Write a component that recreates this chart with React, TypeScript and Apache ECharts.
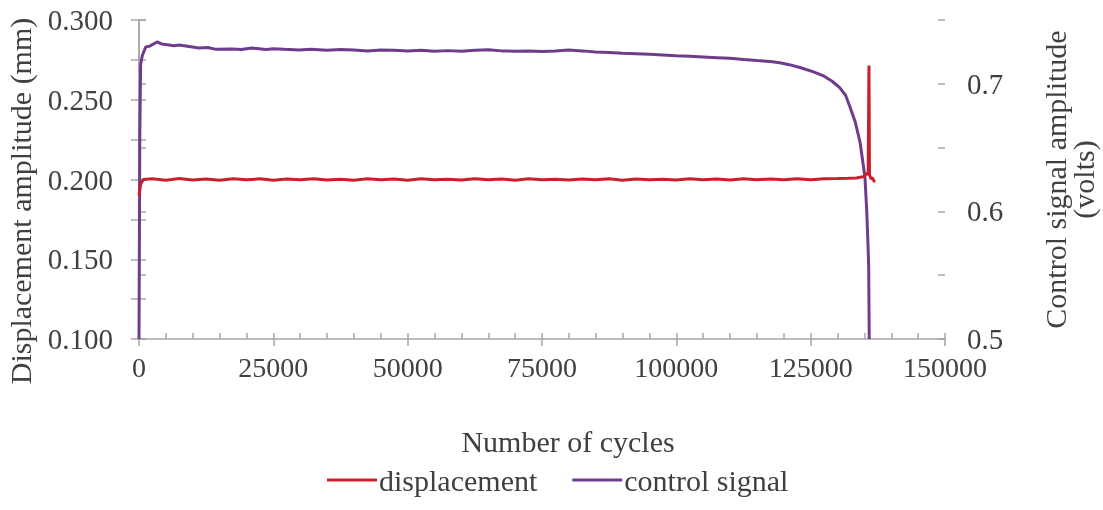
import React, { useEffect, useRef } from "react";
import * as echarts from "echarts";

const xTicks = [0, 25000, 50000, 75000, 100000, 125000, 150000];
const leftTickLabels = ["0.100", "0.150", "0.200", "0.250", "0.300"];
const rightTickLabels = ["0.5", "0.6", "0.7"];

const dispCycles = [
  0, 300, 800, 2500, 5000, 7500, 10000, 12500, 15000, 17500, 20000, 22500, 25000, 27500, 30000,
  32500, 35000, 37500, 40000, 42500, 45000, 47500, 50000, 52500, 55000, 57500, 60000, 62500,
  65000, 67500, 70000, 72500, 75000, 77500, 80000, 82500, 85000, 87500, 90000, 92500, 95000,
  97500, 100000, 102500, 105000, 107500, 110000, 112500, 115000, 117500, 120000, 122500, 125000,
  127500, 130000, 132000, 133500, 134500, 135000, 135400, 135700, 135850, 135950, 136200, 136500,
  136800, 137000,
];
const dispValues = [
  0.19, 0.197, 0.2, 0.2004, 0.1995, 0.2006, 0.1997, 0.2003, 0.1996, 0.2005, 0.1998, 0.2004, 0.1996,
  0.2003, 0.1998, 0.2005, 0.1997, 0.2002, 0.1996, 0.2004, 0.1998, 0.2003, 0.1996, 0.2005, 0.1999,
  0.2002, 0.1997, 0.2004, 0.1998, 0.2003, 0.1996, 0.2004, 0.1999, 0.2002, 0.1997, 0.2003, 0.1998,
  0.2004, 0.1996, 0.2003, 0.1999, 0.2002, 0.1997, 0.2004, 0.1998, 0.2003, 0.1997, 0.2004, 0.1999,
  0.2003, 0.1998, 0.2005, 0.1999, 0.2004, 0.2006, 0.2008, 0.201, 0.2015, 0.202, 0.204, 0.203, 0.2715,
  0.203, 0.2005, 0.201, 0.199, 0.1985,
];

const ctrlCycles = [
  0, 150, 300, 600, 1250, 2000, 3350, 4200, 5590, 6500, 7450, 9000, 11180, 12800, 14350, 17330,
  19000, 21050, 23660, 25000, 27000, 29800, 32000, 35000, 37500, 40000, 42500, 45000, 47500, 50000,
  52500, 55000, 57500, 60000, 62500, 65000, 67500, 70000, 72500, 75000, 77500, 80000, 82500, 85000,
  87500, 90000, 92500, 95000, 97500, 100000, 102500, 105000, 107500, 110000, 112500, 115000, 117500,
  119250, 121000, 123000, 125400, 127500, 129000, 130400, 131500, 132300, 133300, 134200, 135100,
  135450, 135700, 135800, 135900,
];
const ctrlValues = [
  0.5, 0.66, 0.715, 0.722, 0.7288, 0.7295, 0.7328, 0.7312, 0.7304, 0.7298, 0.7304, 0.7295, 0.728,
  0.7284, 0.727, 0.7272, 0.7268, 0.728, 0.7268, 0.7274, 0.727, 0.7265, 0.727, 0.7262, 0.7268, 0.7264,
  0.7258, 0.7265, 0.7262, 0.7258, 0.7262, 0.7256, 0.726, 0.7255, 0.7262, 0.7266, 0.7258, 0.7255,
  0.7258, 0.7254, 0.7258, 0.7265, 0.7258, 0.725, 0.7245, 0.724, 0.7236, 0.7232, 0.7226, 0.722,
  0.7215, 0.721, 0.7205, 0.72, 0.719, 0.7182, 0.7175, 0.7165, 0.715, 0.7128, 0.7095, 0.706, 0.702,
  0.697, 0.691, 0.682, 0.67, 0.654, 0.627, 0.599, 0.57, 0.556, 0.5,
];

const xTitle = "Number of cycles";
const leftTitle = "Displacement amplitude (mm)";
const rightTitle = "Control signal amplitude\n(volts)";

const RED = "#C8202C";
const PURPLE = "#6E3C8C";
const AXIS = "#A6A6A6";
const TEXT = "#404040";
const FONT = "'Liberation Serif', 'DejaVu Serif', 'Times New Roman', serif";

export default function App() {
  const ref = useRef<HTMLDivElement>(null);
  useEffect(() => {
    document.body.style.margin = "0";
    document.documentElement.style.overflow = "hidden";
    document.body.style.overflow = "hidden";
    const chart = echarts.init(ref.current!, null, { renderer: "svg" });
    const leftFmt = (v: number) => {
      const s = v.toFixed(3);
      return leftTickLabels.includes(s) ? s : "";
    };
    const rightFmt = (v: number) => {
      const s = v.toFixed(1);
      return Math.abs(parseFloat(s) - v) < 1e-6 && rightTickLabels.includes(s) ? s : "";
    };
    const tickStyle = { lineStyle: { color: AXIS, width: 1.5 } };
    chart.setOption({
      animation: false,
      grid: { left: 139, right: 158, top: 20, bottom: 171, outerBoundsMode: "none", containLabel: false },
      legend: {
        data: ["displacement", "control signal"],
        bottom: 10,
        left: 322,
        icon: "rect",
        itemWidth: 50,
        itemHeight: 3,
        itemGap: 35,
        textStyle: { color: TEXT, fontFamily: FONT, fontSize: 30, padding: [0, 0, 0, -3] },
      },
      graphic: [
        {
          type: "text",
          x: 568,
          y: 441,
          style: {
            text: xTitle,
            fill: TEXT,
            font: `30px ${FONT}`,
            textAlign: "center",
            textVerticalAlign: "middle",
          },
        },
        {
          type: "text",
          x: 20,
          y: 201,
          rotation: Math.PI / 2,
          style: {
            text: leftTitle,
            fill: TEXT,
            font: `30px ${FONT}`,
            textAlign: "center",
            textVerticalAlign: "middle",
          },
        },
      ],
      xAxis: [
        {
          type: "value",
          min: 0,
          max: 150000,
          interval: 25000,
          axisLine: { lineStyle: { color: AXIS, width: 1.5 } },
          axisTick: { show: true, length: 7, ...tickStyle },
          axisLabel: {
            color: TEXT,
            fontFamily: FONT,
            fontSize: 28,
            margin: 14,
            formatter: (v: number) => (xTicks.includes(v) ? String(v) : ""),
          },
          splitLine: { show: false },
        },
        {
          type: "value",
          min: 0,
          max: 150000,
          interval: 5000,
          position: "bottom",
          axisLine: { show: false },
          axisTick: { show: true, inside: true, length: 6, ...tickStyle },
          axisLabel: { show: false },
          splitLine: { show: false },
        },
      ],
      yAxis: [
        {
          type: "value",
          min: 0.1,
          max: 0.3,
          interval: 0.025,
          position: "left",
          axisLine: { show: true, lineStyle: { color: AXIS, width: 1.5 } },
          axisTick: { show: true, length: 8, ...tickStyle },
          axisLabel: { color: TEXT, fontFamily: FONT, fontSize: 29, margin: 26, formatter: leftFmt },
          splitLine: { show: false },
        },
        {
          type: "value",
          min: 0.5,
          max: 0.75,
          interval: 0.05,
          position: "right",
          name: rightTitle,
          nameLocation: "middle",
          nameRotate: 90,
          nameGap: 96,
          nameTextStyle: { color: TEXT, fontFamily: FONT, fontSize: 30, lineHeight: 28 },
          axisLine: { show: true, lineStyle: { color: AXIS, width: 1.5 } },
          axisTick: { show: true, length: 7, ...tickStyle },
          axisLabel: { color: TEXT, fontFamily: FONT, fontSize: 29, margin: 22, formatter: rightFmt },
          splitLine: { show: false },
        },
        {
          type: "value",
          min: 0.1,
          max: 0.3,
          interval: 0.025,
          position: "left",
          axisLine: { show: false },
          axisTick: { show: true, inside: true, length: 7, ...tickStyle },
          axisLabel: { show: false },
          splitLine: { show: false },
        },
        {
          type: "value",
          min: 0.5,
          max: 0.75,
          interval: 0.05,
          position: "right",
          axisLine: { show: false },
          axisTick: { show: true, inside: true, length: 7, ...tickStyle },
          axisLabel: { show: false },
          splitLine: { show: false },
        },
      ],
      series: [
        {
          name: "control signal",
          type: "line",
          xAxisIndex: 0,
          yAxisIndex: 1,
          showSymbol: false,
          symbol: "none",
          z: 2,
          lineStyle: { color: PURPLE, width: 3 },
          itemStyle: { color: PURPLE },
          data: ctrlCycles.map((c, i) => [c, ctrlValues[i]]),
        },
        {
          name: "displacement",
          type: "line",
          xAxisIndex: 0,
          yAxisIndex: 0,
          showSymbol: false,
          symbol: "none",
          z: 3,
          lineStyle: { color: RED, width: 3 },
          itemStyle: { color: RED },
          data: dispCycles.map((c, i) => [c, dispValues[i]]),
        },
      ],
    });
    return () => chart.dispose();
  }, []);
  return (
    <div
      ref={ref}
      style={{ position: "fixed", left: 0, top: 0, width: 1103, height: 510 }}
    />
  );
}
